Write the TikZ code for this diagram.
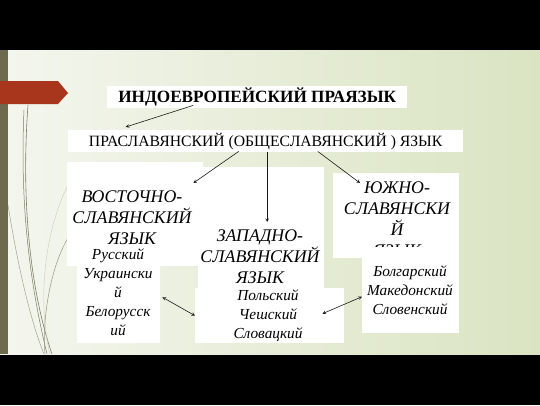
\documentclass[tikz,border=0pt]{standalone}
\usepackage{fontspec}
\setmainfont{Liberation Serif}
\definecolor{slideleft}{HTML}{F4F6EE}
\definecolor{slideright}{HTML}{DAE4C2}
\definecolor{stripe}{HTML}{6E6A4E}
\definecolor{tabred}{HTML}{A8361C}
\definecolor{swirl}{HTML}{7C7C62}
\tikzset{
  whitebox/.style={fill=white, draw=none, inner sep=0pt, anchor=north west},
  bigtext/.style={font=\itshape\fontsize{17.8}{21}\selectfont, align=center, inner sep=0pt},
  langtext/.style={font=\itshape\fontsize{15.3}{19}\selectfont, align=center, inner sep=0pt},
  link/.style={->, gray!20!black, line width=0.6pt},
  twoway/.style={<->, gray!20!black, line width=0.6pt}
}
\begin{document}
\begin{tikzpicture}[>=stealth, x=1pt, y=-1pt]
  \useasboundingbox (0,0) rectangle (540,405);
  % slide and frame
  \fill[black] (0,0) rectangle (540,405);
  \shade[left color=slideleft, right color=slideright] (0,50) rectangle (540,354);
  \fill[stripe] (0,50) rectangle (8,354);
  \fill[tabred] (0,81) -- (58,81) -- (68,93) -- (58,104) -- (0,104) -- cycle;
  \draw[swirl, line width=0.6pt] (28,105) .. controls (21,200) and (30,290) .. (52,354);
  \draw[swirl, line width=0.5pt] (24,110) .. controls (19,220) and (34,300) .. (47,354);
  \draw[swirl!70, line width=0.5pt] (8,205) .. controls (20,280) and (34,330) .. (44,354);
  \draw[swirl!40, line width=0.4pt] (68,185) .. controls (45,230) and (37,300) .. (50,354);
  \draw[swirl!80, line width=0.5pt] (68,238) .. controls (50,268) and (42,320) .. (45,354);

  % top two levels
  \node[whitebox, minimum width=300pt, minimum height=22pt,
        font=\bfseries\fontsize{17.2}{20}\selectfont] (indo) at (107,86) {ИНДОЕВРОПЕЙСКИЙ ПРАЯЗЫК};
  \node[whitebox, minimum width=395pt, minimum height=22pt,
        font=\fontsize{15.7}{18}\selectfont] (pras) at (68,130) {ПРАСЛАВЯНСКИЙ (ОБЩЕСЛАВЯНСКИЙ ) ЯЗЫК};

  % east
  \node[whitebox, minimum width=136pt, minimum height=104pt] (eastbox) at (67,162) {};
  \node[bigtext] (east) at (132,218) {ВОСТОЧНО-\\СЛАВЯНСКИЙ\\ЯЗЫК};
  \node[whitebox, minimum width=83pt, minimum height=96pt] (eastlist) at (77,247) {};
  \node[langtext] (eastlangs) at (118,292) {Русский\\Украински\\й\\Белорусск\\ий};

  % west
  \node[whitebox, minimum width=126pt, minimum height=122pt] (westbox) at (198,167) {};
  \node[bigtext] (west) at (260,257) {ЗАПАДНО-\\СЛАВЯНСКИЙ\\ЯЗЫК};
  \node[whitebox, minimum width=149pt, minimum height=55pt] (westlist) at (195,288) {};
  \node[langtext] (westlangs) at (268,316) {Польский\\Чешский\\Словацкий};

  % south
  \node[whitebox, minimum width=126pt, minimum height=85pt] (southbox) at (333,173) {};
  \begin{scope}
    \clip (333,173) rectangle (459,246);
    \node[bigtext] (south) at (397,219) {ЮЖНО-\\СЛАВЯНСКИ\\Й\\ЯЗЫК};
  \end{scope}
  \node[whitebox, minimum width=97pt, minimum height=75pt] (southlist) at (362,258) {};
  \node[langtext] (southlangs) at (410,290) {Болгарский\\Македонский\\Словенский};

  \path[link]
    ([xshift=-64pt,yshift=3pt]indo.south) edge ([xshift=-140pt,yshift=3pt]pras.north)
    ([xshift=-27pt,yshift=1pt]pras.south) edge ([xshift=-10pt,yshift=-21pt]eastbox.north east)
    ([xshift=1.5pt]pras.south)            edge ([xshift=6pt,yshift=-55pt]westbox.north)
    ([xshift=52pt,yshift=1pt]pras.south)  edge ([xshift=27pt,yshift=-10pt]southbox.north west)
    ;
  \path[twoway]
    ([xshift=2pt,yshift=-2pt]eastlist.east) edge (westlist.west)
    ([xshift=-22pt,yshift=2pt]westlist.east) edge ([yshift=-1pt]southlist.west)
    ;
\end{tikzpicture}
\end{document}
